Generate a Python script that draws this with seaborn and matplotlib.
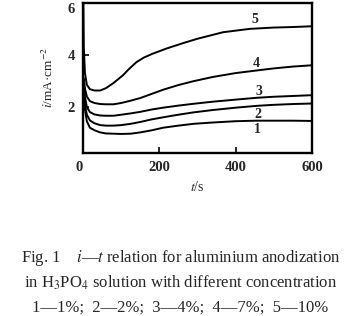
import matplotlib
matplotlib.use("Agg")
import matplotlib.pyplot as plt
import seaborn as sns
import pandas as pd

# ---- data ----
t1 = [2, 5, 10, 18, 30, 45, 60, 80, 100, 125, 150, 180, 210, 250, 290, 340, 400, 455, 500, 550, 600]
i1 = [2.5, 1.9, 1.45, 1.2, 1.1, 1.02, 0.98, 0.97, 0.96, 0.97, 1.02, 1.1, 1.2, 1.28, 1.35, 1.4, 1.45, 1.47, 1.47, 1.47, 1.46]
t2 = [2, 5, 10, 18, 30, 45, 60, 80, 100, 125, 150, 180, 210, 250, 290, 340, 400, 455, 500, 550, 600]
i2 = [2.7, 2.1, 1.7, 1.48, 1.37, 1.3, 1.28, 1.28, 1.3, 1.35, 1.42, 1.52, 1.6, 1.7, 1.79, 1.88, 1.97, 2.04, 2.08, 2.11, 2.13]
t3 = [2, 5, 10, 18, 30, 45, 60, 80, 100, 125, 150, 180, 210, 250, 290, 340, 400, 455, 500, 550, 600]
i3 = [2.9, 2.4, 2.0, 1.8, 1.71, 1.67, 1.66, 1.66, 1.7, 1.75, 1.81, 1.9, 1.97, 2.05, 2.12, 2.2, 2.28, 2.35, 2.39, 2.42, 2.45]
t4 = [2, 5, 10, 18, 30, 45, 60, 80, 100, 125, 150, 180, 210, 250, 290, 340, 400, 455, 500, 550, 600]
i4 = [3.1, 2.7, 2.4, 2.22, 2.15, 2.11, 2.1, 2.1, 2.15, 2.24, 2.34, 2.5, 2.66, 2.84, 2.99, 3.15, 3.3, 3.4, 3.48, 3.55, 3.6]
t5 = [0.5, 2, 5, 10, 18, 30, 45, 60, 80, 105, 120, 140, 160, 180, 200, 218, 262, 300, 367, 437, 500, 550, 600]
i5 = [6.5, 4.3, 3.3, 2.85, 2.68, 2.63, 2.63, 2.72, 2.92, 3.22, 3.45, 3.72, 3.9, 4.03, 4.14, 4.24, 4.45, 4.62, 4.87, 5.0, 5.05, 5.07, 5.1]

curve_names = ["1", "2", "3", "4", "5"]
label_t = [458, 458, 460, 453, 450]
label_i = [1.12, 1.72, 2.58, 3.67, 5.37]

xticks = [0, 200, 400, 600]
yticks = [2, 4, 6]

caption = [
    "Fig. 1    $i$\u2014$t$ relation for aluminium anodization",
    "in H$_3$PO$_4$ solution with different concentration",
    "1\u20141%;  2\u20142%;  3\u20144%;  4\u20147%;  5\u201410%",
]

# ---- build table ----
frames = []
for name, t, i in zip(curve_names, [t1, t2, t3, t4, t5], [i1, i2, i3, i4, i5]):
    frames.append(pd.DataFrame({"t": t, "i": i, "curve": name}))
df = pd.concat(frames, ignore_index=True)

sns.set_style("white")
plt.rcParams["font.family"] = ["Liberation Serif", "DejaVu Serif"]
plt.rcParams["mathtext.fontset"] = "stix"

fig = plt.figure(figsize=(3.61, 3.16), dpi=100)
ax = fig.add_axes([0.23, 0.516, 0.634, 0.475])

sns.lineplot(data=df, x="t", y="i", hue="curve", units="curve", estimator=None,
             palette=["black"] * 5, legend=False, linewidth=1.4, ax=ax)

ax.set_xlim(0, 600)
ax.set_ylim(0.23, 6.0)
ax.set_xticks(xticks)
ax.set_xticklabels([str(v) for v in xticks])
ax.set_yticks(yticks)
ax.set_yticklabels([str(v) for v in yticks])
ax.tick_params(direction="in", length=4, width=1.4, labelsize=10.5,
               bottom=True, left=True, pad=6)
for lab in ax.get_xticklabels() + ax.get_yticklabels():
    lab.set_fontweight("bold")
ax.get_yticklabels()[-1].set_va("top")
ax.get_xticklabels()[0].set_ha("right")
for sp in ax.spines.values():
    sp.set_linewidth(1.7)
    sp.set_color("black")

ax.set_xlabel("$t$/s", fontsize=10, labelpad=4)
ax.set_ylabel("$i$/mA\u00b7cm$^{-2}$", fontsize=9.5, labelpad=8)

for name, lt, li in zip(curve_names, label_t, label_i):
    ax.text(lt, li, name, fontsize=10, ha="center", va="center", fontweight="bold")

for k, line in enumerate(caption):
    fig.text(0.5, 1 - (258 + 25 * k) / 316, line, ha="center", va="center", fontsize=12)

fig.savefig("out.png", dpi=100)
